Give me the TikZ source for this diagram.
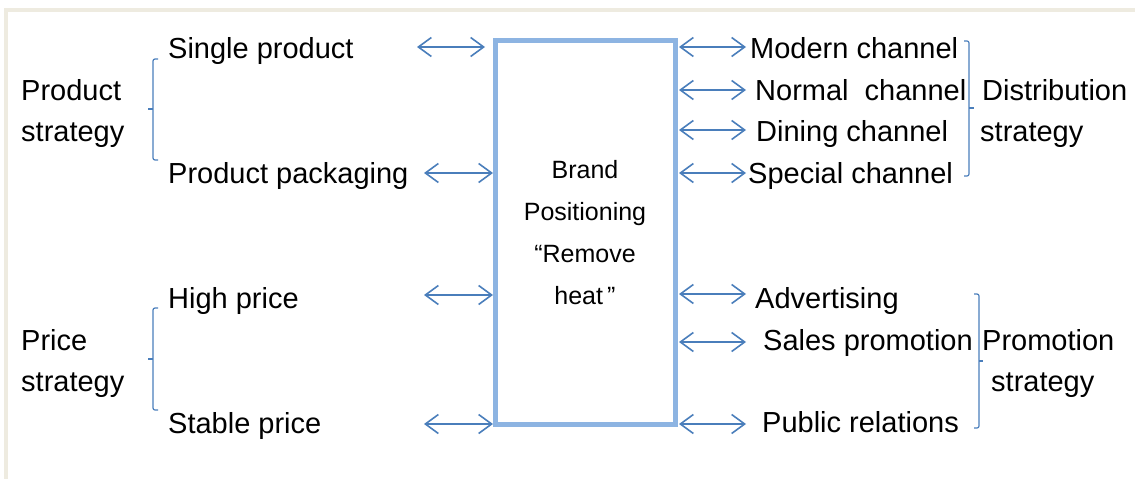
\documentclass[tikz,border=0pt]{standalone}
\usepackage{fontspec}
\setmainfont{Liberation Sans}
\usetikzlibrary{arrows.meta}
\definecolor{arrowblue}{HTML}{4A7EBB}
\definecolor{boxblue}{HTML}{8DB4E2}
\definecolor{framebeige}{HTML}{EEEBE0}
\tikzset{
	lbl/.style={anchor=base west,inner sep=0pt,font=\fontsize{29}{34}\selectfont},
	boxtext/.style={anchor=base,inner sep=0pt,font=\fontsize{25}{29}\selectfont},
	biarrow/.style={draw=arrowblue,line width=1.6pt,{Straight Barb[length=13pt,width=19pt]}-{Straight Barb[length=13pt,width=19pt]}},
	bracket/.style={draw=arrowblue,line width=1.2pt,rounded corners=2pt}
}
\begin{document}
\begin{tikzpicture}[x=1pt,y=-1pt]
	\useasboundingbox (0,0) rectangle (1135,479);
	\fill[framebeige] (4,8) rectangle (1135,12);
	\fill[framebeige] (4,8) rectangle (8,479);
	\node[draw=boxblue,line width=5pt,minimum width=179.5pt,minimum height=383.5pt,inner sep=0pt] (box) at (585.25,232.25) {};
	\node[boxtext] (b1) at (585,178) {Brand};
	\node[boxtext] (b2) at (585,220) {Positioning};
	\node[boxtext] (b3) at (585,262) {“Remove};
	\node[boxtext] (b4) at (585,304) {heat\,”};
	\node[lbl] (ps1) at (21,100) {Product};
	\node[lbl] (ps2) at (21,141) {strategy};
	\node[lbl] (prs1) at (21,350) {Price};
	\node[lbl] (prs2) at (21,391) {strategy};
	\node[lbl] (sp) at (168,58) {Single product};
	\node[lbl] (pp) at (168,183) {Product packaging};
	\node[lbl] (hp) at (168,308) {High price};
	\node[lbl] (stp) at (168,433) {Stable price};
	\node[lbl] (mc) at (750,58) {Modern channel};
	\node[lbl] (nc) at (755,100) {Normal~~channel};
	\node[lbl] (dc) at (756,141) {Dining channel};
	\node[lbl] (sc) at (748,183) {Special channel};
	\node[lbl] (ds1) at (982,100) {Distribution};
	\node[lbl] (ds2) at (980,141) {strategy};
	\node[lbl] (ad) at (755,308) {Advertising};
	\node[lbl] (spr) at (763,350) {Sales promotion};
	\node[lbl] (pr) at (762,432) {Public relations};
	\node[lbl] (pm1) at (982,350) {Promotion};
	\node[lbl] (pm2) at (991,391) {strategy};
	\coordinate (l1) at (417,47);
	\coordinate (l2) at (424,173);
	\coordinate (l3) at (424,295);
	\coordinate (l4) at (424,424);
	\draw[biarrow] (l1) -- ([xshift=-8pt]box.west |- l1);
	\draw[biarrow] (l2) -- (box.west |- l2);
	\draw[biarrow] (l3) -- (box.west |- l3);
	\draw[biarrow] (l4) -- (box.west |- l4);
	\coordinate (r1) at (746,47);
	\coordinate (r2) at (746,90);
	\coordinate (r3) at (746,130);
	\coordinate (r4) at (746,173);
	\coordinate (r5) at (746,294);
	\coordinate (r6) at (746,342);
	\coordinate (r7) at (746,424);
	\draw[biarrow] ([xshift=1.5pt]box.east |- r1) -- (r1);
	\draw[biarrow] ([xshift=1.5pt]box.east |- r2) -- (r2);
	\draw[biarrow] ([xshift=1.5pt]box.east |- r3) -- (r3);
	\draw[biarrow] ([xshift=1.5pt]box.east |- r4) -- (r4);
	\draw[biarrow] ([xshift=1.5pt]box.east |- r5) -- (r5);
	\draw[biarrow] ([xshift=1.5pt]box.east |- r6) -- (r6);
	\draw[biarrow] ([xshift=1.5pt]box.east |- r7) -- (r7);
	\draw[bracket] (158,59) -- (153,59) -- (153,160) -- (158,160);
	\draw[bracket] (153,109) -- (148,109);
	\draw[bracket] (158,308) -- (153,308) -- (153,410) -- (158,410);
	\draw[bracket] (153,359) -- (148,359);
	\draw[bracket] (964,41) -- (969,41) -- (969,176) -- (964,176);
	\draw[bracket] (969,108) -- (974,108);
	\draw[bracket] (974,294) -- (979,294) -- (979,428) -- (974,428);
	\draw[bracket] (979,361) -- (983,361);
\end{tikzpicture}
\end{document}
